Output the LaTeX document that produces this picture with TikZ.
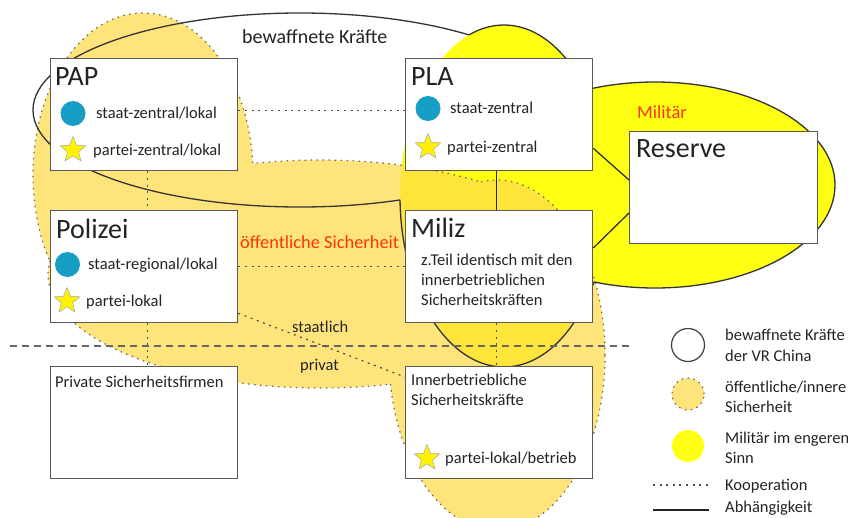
\documentclass[tikz,border=0pt]{standalone}
\usepackage{fontspec}
\setmainfont{Carlito}
\usetikzlibrary{shapes.geometric}
\definecolor{orng}{RGB}{255,218,74}
\definecolor{orngflat}{RGB}{254,228,124}
\definecolor{ylw}{RGB}{255,255,20}
\definecolor{tealdot}{RGB}{22,158,196}
\definecolor{redlab}{RGB}{252,52,8}
\definecolor{txt}{RGB}{35,35,35}
\begin{document}
\begin{tikzpicture}[x=1pt,y=-1pt,
  box/.style={draw=black!65, line width=1.3pt, fill=white, minimum width=187pt, minimum height=112pt, anchor=north west, inner sep=0pt},
  ttl/.style={anchor=base west, font=\fontsize{28}{30}\selectfont, text=txt, inner sep=0pt},
  body/.style={anchor=base west, font=\fontsize{16.5}{20}\selectfont, text=txt, inner sep=0pt},
  biglbl/.style={anchor=base west, font=\fontsize{20}{24}\selectfont, text=txt, inner sep=0pt},
  redlbl/.style={anchor=base west, font=\fontsize{18.4}{22}\selectfont, text=redlab, inner sep=0pt},
  dotm/.style={circle, fill=tealdot, minimum size=25pt, inner sep=0pt},
  starm/.style={star, star points=5, star point ratio=2.3, fill=yellow, draw=black!35, line width=0.5pt, minimum size=27pt, inner sep=0pt},
  koop/.style={draw=black!70, line width=1.2pt, dash pattern=on 2pt off 4.6pt},
  abh/.style={draw=black!85, line width=1.2pt},
  divider/.style={draw=black!60, line width=1.1pt, dash pattern=on 7pt off 5pt},
  orngline/.style={draw=black!60, line width=1.2pt, dash pattern=on 1.5pt off 4.5pt},
  armline/.style={draw=black!80, line width=1.3pt}
]
\useasboundingbox (0,0) rectangle (848,517);
\def\ellA{(143,175) ellipse [x radius=110pt, y radius=162pt]}
\def\ellB{(320,274) ellipse [x radius=272pt, y radius=114pt]}
\def\ellC{(497,355) ellipse [x radius=108pt, y radius=175pt]}
\def\ellF{(300,110) ellipse [x radius=267pt, y radius=97pt]}
\def\ellG{(504,196) ellipse [x radius=104pt, y radius=171pt]}
\def\ellE{(655,185) ellipse [x radius=180pt, y radius=103pt]}
\def\bigR{(-50,-50) rectangle (900,570)}

% Militaer (yellow)
\fill[ylw] \ellG \ellE;
% oeffentliche Sicherheit (orange, union)
\fill[orng, fill opacity=0.72] \ellA \ellB \ellC;

% dotted outline of orange union
\begin{scope}[even odd rule]
  \clip \bigR \ellB;
  \clip \bigR \ellC;
  \draw[orngline] \ellA;
\end{scope}
\begin{scope}[even odd rule]
  \clip \bigR \ellA;
  \clip \bigR \ellC;
  \draw[orngline] \ellB;
\end{scope}
\begin{scope}[even odd rule]
  \clip \bigR \ellA;
  \clip \bigR \ellB;
  \draw[orngline] \ellC;
\end{scope}

% solid outline of armed forces union
\begin{scope}[even odd rule]
  \clip \bigR \ellG;
  \clip \bigR \ellE;
  \draw[armline] \ellF;
\end{scope}
\begin{scope}[even odd rule]
  \clip \bigR \ellF;
  \clip \bigR \ellE;
  \draw[armline] \ellG;
\end{scope}
\begin{scope}[even odd rule]
  \clip \bigR \ellF;
  \clip \bigR \ellG;
  \draw[armline] \ellE;
\end{scope}

% boxes
\node[box] (PAP) at (50,58) {};
\node[box] (PLA) at (405,58) {};
\node[box, minimum width=188pt] (Reserve) at (629,131) {};
\node[box] (Polizei) at (50,210) {};
\node[box] (Miliz) at (405,210) {};
\node[box] (Private) at (50,366) {};
\node[box] (Inner) at (405,366) {};

% divider staatlich / privat
\coordinate (divL) at (10,346);
\coordinate (divR) at (629,346);
\draw[divider] (divL) -- (divR);

% connectors
\draw[koop] ([yshift=4pt]PAP.east) -- ([yshift=4pt]PLA.west);
\draw[koop] (Polizei.east) -- (Miliz.west);
\draw[koop] ([xshift=3pt]PAP.south) -- ([xshift=3pt]Polizei.north);
\draw[koop] ([xshift=3pt]Polizei.south) -- ([xshift=3pt]Private.north);
\draw[koop] ([xshift=-2.5pt]Miliz.south) -- ([xshift=-2.5pt]Inner.north);
\draw[koop] ([yshift=10pt]Polizei.south east) -- ([yshift=-11pt]Inner.north west);
\draw[abh] ([xshift=-2.5pt]PLA.south) -- ([xshift=-2.5pt]Miliz.north);
\draw[abh] ([yshift=23pt]PLA.south east) -- ([yshift=-49pt]Reserve.north west);
\draw[abh] ([yshift=-38pt]Miliz.north east) -- ([yshift=-82pt]Reserve.north west);

% box contents
\node[ttl] (PAPt) at (55,85) {PAP};
\node[dotm] (PAPc) at (73,113.5) {};
\node[body] (PAPa) at (96,118) {staat-zentral/lokal};
\node[starm] (PAPs) at (73,150) {};
\node[body] (PAPb) at (93,155) {partei-zentral/lokal};

\node[ttl] (PLAt) at (411,85) {PLA};
\node[dotm] (PLAc) at (428,108.5) {};
\node[body] (PLAa) at (450,113) {staat-zentral};
\node[starm] (PLAs) at (428,147) {};
\node[body] (PLAb) at (447,152) {partei-zentral};

\node[ttl] (Rest) at (636,157) {Reserve};

\node[ttl] (Polt) at (56,238) {Polizei};
\node[dotm] (Polc) at (67.5,264.5) {};
\node[body] (Pola) at (88,269) {staat-regional/lokal};
\node[starm] (Pols) at (67,301) {};
\node[body] (Polb) at (86,306) {partei-lokal};

\node[ttl] (Milt) at (411,237) {Miliz};
\node[body] (Mila) at (421,265) {z.Teil identisch mit den};
\node[body] (Milb) at (421,285) {innerbetrieblichen};
\node[body] (Milc) at (421,305) {Sicherheitskräften};

\node[body] (Prit) at (55,387) {Private Sicherheitsfirmen};

\node[body] (Inna) at (411,385) {Innerbetriebliche};
\node[body] (Innb) at (411,405) {Sicherheitskräfte};
\node[starm] (Inns) at (427,458) {};
\node[body] (Innc) at (445,463) {partei-lokal/betrieb};

% region labels
\node[biglbl] (lblArm) at (242,43) {bewaffnete Kräfte};
\node[redlbl] (lblMil) at (637,118) {Militär};
\node[redlbl] (lblOeff) at (240,248) {öffentliche Sicherheit};
\node[body] (lblSta) at (292,332) {staatlich};
\node[body] (lblPri) at (300,370) {privat};

% legend
\node[circle, draw=black!75, line width=1.2pt, fill=white, minimum size=33pt, inner sep=0pt] (legArm) at (688,345) {};
\node[circle, fill=orngflat, minimum size=32pt, inner sep=0pt] (legOeff) at (688,394) {};
\draw[orngline] (legOeff.center) circle [radius=16pt];
\node[circle, fill=ylw, minimum size=32pt, inner sep=0pt] (legMil) at (688,446) {};
\coordinate (kooL) at (653,485);
\coordinate (kooR) at (709,485);
\coordinate (abhL) at (653,510);
\coordinate (abhR) at (709,510);
\draw[koop] (kooL) -- (kooR);
\draw[abh] (abhL) -- (abhR);
\node[body] (legT1) at (725,340) {bewaffnete Kräfte};
\node[body] (legT2) at (725,361) {der VR China};
\node[body] (legT3) at (725,392) {öffentliche/innere};
\node[body] (legT4) at (725,412) {Sicherheit};
\node[body] (legT5) at (725,443) {Militär im engeren};
\node[body] (legT6) at (725,463) {Sinn};
\node[body] (legT7) at (725,490) {Kooperation};
\node[body] (legT8) at (725,512) {Abhängigkeit};
\end{tikzpicture}
\end{document}
